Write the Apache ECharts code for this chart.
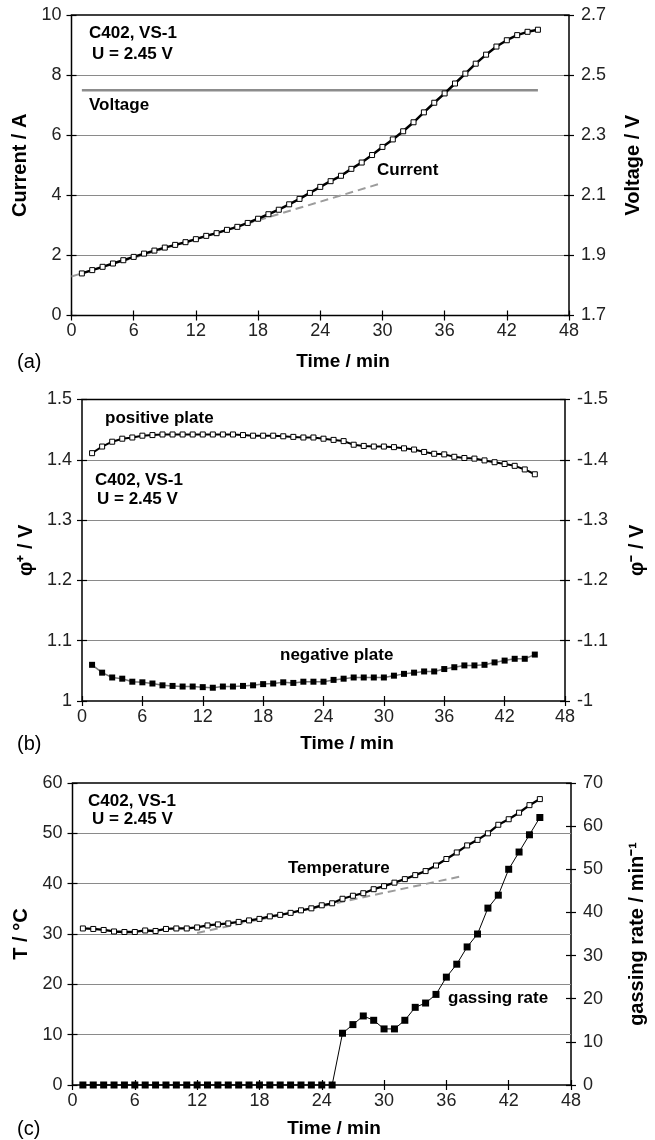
<!DOCTYPE html>
<html>
<head>
<meta charset="utf-8">
<script src="https://cdn.jsdelivr.net/npm/echarts@6/dist/echarts.min.js"></script>
<style>
  html, body { margin: 0; padding: 0; background: #fff; }
  #chart { width: 655px; height: 1140px; }
</style>
</head>
<body>
<div id="chart"></div>
<script>
// ---- data -------------------------------------------------------------
const timeMin = [1,2,3,4,5,6,7,8,9,10,11,12,13,14,15,16,17,18,19,20,21,22,23,24,25,26,27,28,29,30,31,32,33,34,35,36,37,38,39,40,41,42,43,44,45];
const timeTicks = [0, 48, 6];

// (a) charging current at constant cell voltage
const currentA = [1.40,1.51,1.62,1.73,1.84,1.95,2.06,2.16,2.26,2.35,2.44,2.54,2.65,2.74,2.85,2.95,3.08,3.22,3.37,3.52,3.70,3.88,4.08,4.28,4.47,4.65,4.88,5.09,5.34,5.61,5.86,6.13,6.43,6.76,7.08,7.39,7.72,8.05,8.38,8.68,8.95,9.16,9.33,9.44,9.51];
const currentTrendTime = [0, 30];
const currentTrend = [1.30, 4.41];
const voltageTime = [1, 45];
const voltageV = [2.45, 2.45];

// (b) half-cell potentials
const positivePlate = [1.411,1.422,1.430,1.435,1.437,1.440,1.441,1.442,1.442,1.442,1.442,1.442,1.442,1.442,1.442,1.441,1.440,1.440,1.440,1.439,1.438,1.437,1.437,1.435,1.433,1.431,1.425,1.423,1.422,1.422,1.421,1.419,1.417,1.413,1.410,1.409,1.405,1.403,1.402,1.399,1.396,1.393,1.390,1.384,1.376];
const negativePlate = [-1.060,-1.047,-1.039,-1.037,-1.032,-1.031,-1.029,-1.026,-1.025,-1.024,-1.024,-1.023,-1.022,-1.024,-1.024,-1.025,-1.026,-1.028,-1.029,-1.031,-1.030,-1.032,-1.032,-1.032,-1.035,-1.037,-1.039,-1.039,-1.039,-1.039,-1.042,-1.045,-1.047,-1.049,-1.049,-1.053,-1.056,-1.059,-1.059,-1.060,-1.064,-1.067,-1.070,-1.070,-1.077];

// (c) temperature and gassing rate
const temperatureC = [31.1,31.0,30.8,30.5,30.4,30.4,30.7,30.6,31.0,31.1,31.1,31.3,31.7,31.9,32.1,32.4,32.7,33.0,33.5,33.8,34.2,34.7,35.1,35.7,36.1,37.0,37.6,38.1,38.9,39.5,40.2,40.9,41.7,42.5,43.6,44.9,46.2,47.6,48.7,50.0,51.7,52.8,54.1,55.6,56.8];
const tempTrendTime = [12, 37.5];
const tempTrend = [30.2, 41.5];
const gassingRate = [0,0,0,0,0,0,0,0,0,0,0,0,0,0,0,0,0,0,0,0,0,0,0,0,0,12,14,16,15,13,13,15,18,19,21,25,28,32,35,41,44,50,54,58,62];

// ---- helpers ----------------------------------------------------------
const FONT = '"Liberation Sans", Arial, Helvetica, sans-serif';
const zip = (xs, ys) => xs.map((x, i) => [x, ys[i]]);

function timeAxis(gridIndex) {
  return {
    type: 'value', gridIndex, position: 'bottom', offset: -5,
    min: timeTicks[0], max: timeTicks[1], interval: timeTicks[2],
    axisLine: { show: false },
    axisTick: { show: true, length: 10, lineStyle: { color: '#000', width: 1.2 } },
    axisLabel: { margin: 12, fontSize: 18, color: '#222', fontFamily: FONT },
    splitLine: { show: false }
  };
}

function valueAxis(gridIndex, side, min, max, interval, name, nameGap, opts) {
  const o = opts || {};
  return {
    type: 'value', gridIndex, position: side, offset: -5,
    min, max, interval, inverse: !!o.inverse,
    name, nameLocation: 'middle', nameRotate: 90, nameGap,
    nameTextStyle: { fontSize: 20, fontWeight: 'bold', color: '#000', fontFamily: FONT },
    axisLine: { show: false },
    axisTick: { show: true, length: 10, lineStyle: { color: '#000', width: 1.2 } },
    axisLabel: { margin: side === 'left' ? 15 : 17, fontSize: 18, color: '#222', fontFamily: FONT },
    splitLine: side === 'left'
      ? { show: true, showMinLine: false, showMaxLine: false, lineStyle: { color: '#8a8a8a', width: 1.2 } }
      : { show: false }
  };
}

function markedLine(name, xi, yi, data, opts) {
  return {
    name, type: 'line', xAxisIndex: xi, yAxisIndex: yi, data,
    symbol: 'rect', symbolSize: opts.size, clip: false, z: 5,
    lineStyle: { color: opts.lineColor, width: opts.lineWidth },
    itemStyle: opts.filled
      ? { color: '#000', borderColor: '#000', borderWidth: 0 }
      : { color: '#fff', borderColor: '#000', borderWidth: 1 },
    emphasis: { disabled: true }
  };
}

function plainLine(name, xi, yi, data, color, width, type) {
  return {
    name, type: 'line', xAxisIndex: xi, yAxisIndex: yi, data,
    symbol: 'none', clip: false, z: 3,
    lineStyle: { color, width, type: type || 'solid' },
    emphasis: { disabled: true }
  };
}

function label(text, x, y, opts) {
  const o = opts || {};
  return {
    type: 'text', z: 10,
    style: {
      text, x, y, fill: '#000',
      font: (o.weight || 'bold') + ' ' + (o.size || 17) + 'px ' + FONT,
      align: o.align || 'left', verticalAlign: 'middle'
    }
  };
}

const frame = { show: true, borderColor: '#000', borderWidth: 1.5, backgroundColor: 'transparent' };

const option = {
  animation: false,
  backgroundColor: '#fff',
  grid: [
    Object.assign({ left: 71.5, top: 15, width: 497.5, height: 300.5 }, frame),
    Object.assign({ left: 82, top: 399.5, width: 485, height: 301.5 }, frame),
    Object.assign({ left: 72.5, top: 783, width: 499.5, height: 302 }, frame)
  ],
  xAxis: [timeAxis(0), timeAxis(1), timeAxis(2)],
  yAxis: [
    valueAxis(0, 'left', 0, 10, 2, 'Current / A', 41),
    valueAxis(0, 'right', 1.7, 2.7, 0.2, 'Voltage / V', 59),
    valueAxis(1, 'left', 1, 1.5, 0.1, 'φ⁺ / V', 42),
    valueAxis(1, 'right', -1.5, -1, 0.1, 'φ⁻ / V', 67, { inverse: true }),
    valueAxis(2, 'left', 0, 60, 10, 'T / °C', 39),
    valueAxis(2, 'right', 0, 70, 10, 'gassing rate / min⁻¹', 61)
  ],
  series: [
    plainLine('Current trend', 0, 0, zip(currentTrendTime, currentTrend), '#9c9c9c', 2, [8, 5]),
    plainLine('Voltage', 0, 1, zip(voltageTime, voltageV), '#8c8c8c', 2.5),
    markedLine('Current', 0, 0, zip(timeMin, currentA), { size: 5, lineColor: '#000', lineWidth: 2.5 }),

    markedLine('positive plate', 1, 2, zip(timeMin, positivePlate), { size: 5, lineColor: '#000', lineWidth: 2 }),
    markedLine('negative plate', 1, 3, zip(timeMin, negativePlate), { size: 6, lineColor: '#777', lineWidth: 1.5, filled: true }),

    plainLine('Temperature trend', 2, 4, zip(tempTrendTime, tempTrend), '#9c9c9c', 2, [8, 5]),
    markedLine('Temperature', 2, 4, zip(timeMin, temperatureC), { size: 5, lineColor: '#000', lineWidth: 2.3 }),
    markedLine('gassing rate', 2, 5, zip(timeMin, gassingRate), { size: 7, lineColor: '#000', lineWidth: 1, filled: true })
  ],
  graphic: [
    // panel (a)
    label('C402, VS-1', 89, 33),
    label('U = 2.45 V', 92, 54),
    label('Voltage', 89, 105),
    label('Current', 377, 170),
    label('Time / min', 343, 362, { size: 19, align: 'center' }),
    label('(a)', 17, 362, { weight: 'normal', size: 20 }),
    // panel (b)
    label('positive plate', 105, 418),
    label('C402, VS-1', 95, 480),
    label('U = 2.45 V', 97, 499),
    label('negative plate', 280, 655),
    label('Time / min', 347, 744, { size: 19, align: 'center' }),
    label('(b)', 17, 744, { weight: 'normal', size: 20 }),
    // panel (c)
    label('C402, VS-1', 88, 801),
    label('U = 2.45 V', 92, 819),
    label('Temperature', 288, 868),
    label('gassing rate', 448, 998),
    label('Time / min', 334, 1129, { size: 19, align: 'center' }),
    label('(c)', 17, 1129, { weight: 'normal', size: 20 })
  ]
};

const chart = echarts.init(document.getElementById('chart'), null, { renderer: 'canvas' });
chart.setOption(option);
</script>
</body>
</html>
